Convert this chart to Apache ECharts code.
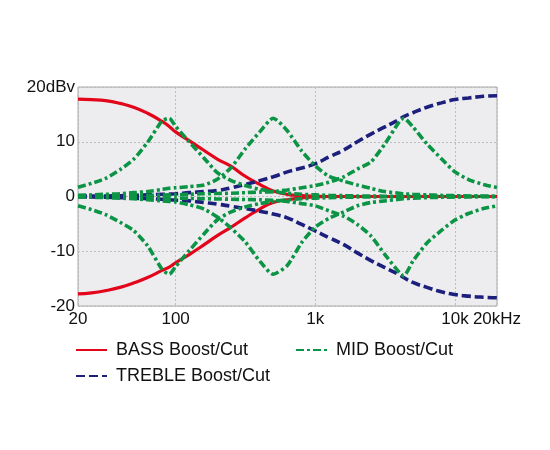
<!DOCTYPE html>
<html>
<head>
<meta charset="utf-8">
<script src="https://cdn.jsdelivr.net/npm/echarts@6/dist/echarts.min.js"></script>
<style>
html,body{margin:0;padding:0;background:#fff;}
#c{width:550px;height:450px;}
</style>
</head>
<body>
<div id="c"></div>
<script>
// Frequencies (Hz)
const freqs = [20,25,31.5,40,50,63,80,90,100,125,160,200,250,315,400,500,630,800,1000,1250,1600,2000,2500,3150,4000,4300,5000,6300,8000,10000,12500,16000,20000];

// Levels (dB)
const bassBoost = [17.8,17.7,17.5,17.0,16.3,15.2,13.7,12.8,11.8,10.2,8.4,6.8,5.5,3.7,2.2,1.0,0.4,0.15,0.05,0,0,0,0,0,0,0,0,0,0,0,0,0,0];
const bassCut = [-17.8,-17.6,-17.2,-16.6,-15.8,-14.8,-13.5,-12.9,-12.1,-10.6,-8.8,-7.1,-5.6,-3.9,-2.3,-1.1,-0.6,-0.25,-0.1,0,0,0,0,0,0,0,0,0,0,0,0,0,0];

const trebleBoost = [0.05,0.08,0.1,0.15,0.2,0.3,0.4,0.45,0.5,0.7,0.9,1.1,1.6,2.2,2.9,3.6,4.5,5.2,6.0,7.2,8.5,10.0,11.4,12.7,14.1,14.6,15.3,16.3,17.1,17.7,18.0,18.3,18.4];
const trebleCut = [-0.05,-0.1,-0.15,-0.2,-0.3,-0.4,-0.5,-0.6,-0.65,-0.8,-1.1,-1.4,-1.8,-2.2,-2.7,-3.2,-3.9,-5.1,-6.3,-7.5,-8.8,-10.3,-11.7,-13.0,-14.3,-14.8,-15.7,-16.6,-17.4,-17.9,-18.2,-18.4,-18.5];

const midBoostLow = [1.7,2.4,3.3,4.9,6.8,9.9,13.8,14.3,12.8,10.0,7.0,4.3,2.9,2.0,1.3,0.9,0.6,0.4,0.3,0.2,0.15,0.1,0.1,0.05,0.05,0.05,0,0,0,0,0,0,0];
const midCutLow = [-1.7,-2.4,-3.3,-4.7,-6.2,-9.0,-13.3,-14.2,-12.8,-9.9,-6.8,-4.2,-2.8,-1.9,-1.3,-0.9,-0.6,-0.4,-0.3,-0.2,-0.15,-0.1,-0.1,-0.05,-0.05,-0.05,0,0,0,0,0,0,0];

const midBoostMid = [0.2,0.3,0.4,0.5,0.7,0.9,1.3,1.5,1.6,1.8,2.1,3.2,5.3,8.7,11.8,14.3,12.0,8.3,5.6,3.7,2.8,2.1,1.5,0.9,0.6,0.5,0.4,0.3,0.2,0.15,0.1,0.05,0];
const midCutMid = [-0.1,-0.15,-0.2,-0.3,-0.4,-0.6,-0.8,-0.9,-1.0,-1.5,-2.3,-3.8,-5.8,-8.3,-11.8,-14.2,-12.6,-8.4,-5.6,-4.0,-2.8,-1.7,-1.1,-0.8,-0.5,-0.4,-0.3,-0.2,-0.15,-0.1,-0.05,0,0];

const midBoostHigh = [0.05,0.05,0.1,0.1,0.15,0.2,0.25,0.3,0.3,0.4,0.5,0.55,0.6,0.7,0.8,0.9,1.2,1.6,2.0,2.6,3.6,5.0,6.3,9.6,13.7,14.3,12.7,9.6,6.9,4.5,3.1,2.2,1.65];
const midCutHigh = [-0.05,-0.05,-0.1,-0.1,-0.15,-0.2,-0.25,-0.3,-0.3,-0.35,-0.4,-0.45,-0.5,-0.55,-0.6,-0.7,-0.9,-1.3,-1.7,-2.6,-3.6,-5.1,-7.2,-10.6,-13.9,-14.5,-11.8,-8.5,-6.2,-4.3,-3.1,-2.2,-1.7];

// Tick labels
const xTickLabels = {20:'20',100:'100',1000:'1k',10000:'10k',20000:'20kHz'};
const yTickLabels = {'20':'20dBv','10':'10','0':'0','-10':'-10','-20':'-20'};

const NAME_BASS = 'BASS Boost/Cut';
const NAME_MID = 'MID Boost/Cut';
const NAME_TREBLE = 'TREBLE Boost/Cut';

const RED = '#e3061b';
const BLUE = '#1c1f7c';
const GREEN = '#0b9444';

function pairs(vals){ return freqs.map((f,i)=>[f, vals[i]]); }

function mk(name, vals, color, type, width, smooth){
  return {
    name: name, type: 'line', data: pairs(vals), symbol: 'none',
    smooth: smooth,
    lineStyle: {color: color, width: width, type: type, cap: 'butt'},
    itemStyle: {color: color},
    emphasis: {disabled: true}, animation: false
  };
}

const dashBlue = [9, 4];
const dashGreen = [8, 3, 3, 3];

const font = 'Liberation Sans, Arial, Helvetica, sans-serif';

const legendCommon = {
  orient: 'vertical', top: 341, padding: 0,
  itemWidth: 31, itemHeight: 14, itemGap: 8, selectedMode: false,
  itemStyle: {opacity: 0},
  textStyle: {color: '#111', fontSize: 18, fontFamily: font, padding: [0,0,0,4]}
};

const chart = echarts.init(document.getElementById('c'), null, {renderer: 'canvas'});
chart.setOption({
  animation: false,
  backgroundColor: '#ffffff',
  grid: {left: 78, right: 53, top: 87, bottom: 144, show: true,
         backgroundColor: '#ededf0', borderColor: '#a8a8a8', borderWidth: 1},
  xAxis: {
    type: 'log', logBase: 10, min: 20, max: 20000,
    axisLine: {show: false}, axisTick: {show: false},
    axisLabel: {
      color: '#111', fontSize: 17, fontFamily: font, margin: 5,
      showMinLabel: true, showMaxLabel: true,
      formatter: function(v){ const r = Math.round(v); return xTickLabels[r] !== undefined ? xTickLabels[r] : ''; }
    },
    splitLine: {show: true, lineStyle: {color: '#bdbdbd', type: [2, 2], width: 1}}
  },
  yAxis: {
    type: 'value', min: -20, max: 20, interval: 10,
    axisLine: {show: false}, axisTick: {show: false},
    axisLabel: {
      color: '#111', fontSize: 17, fontFamily: font, margin: 3,
      formatter: function(v){ const k = String(Math.round(v)); return yTickLabels[k] !== undefined ? yTickLabels[k] : ''; }
    },
    splitLine: {show: true, lineStyle: {color: '#bdbdbd', type: [2, 2], width: 1}}
  },
  legend: [
    Object.assign({}, legendCommon, {data: [NAME_BASS, NAME_TREBLE], left: 75}),
    Object.assign({}, legendCommon, {data: [NAME_MID], left: 295})
  ],
  series: [
    mk(NAME_BASS, bassBoost, RED, 'solid', 3.2, 0.5),
    mk(NAME_BASS, bassCut, RED, 'solid', 3.2, 0.5),
    mk(NAME_TREBLE, trebleBoost, BLUE, dashBlue, 3.6, 0.5),
    mk(NAME_TREBLE, trebleCut, BLUE, dashBlue, 3.6, 0.5),
    mk(NAME_MID, midBoostLow, GREEN, dashGreen, 3.6, 0.22),
    mk(NAME_MID, midCutLow, GREEN, dashGreen, 3.6, 0.22),
    mk(NAME_MID, midBoostMid, GREEN, dashGreen, 3.6, 0.22),
    mk(NAME_MID, midCutMid, GREEN, dashGreen, 3.6, 0.22),
    mk(NAME_MID, midBoostHigh, GREEN, dashGreen, 3.6, 0.22),
    mk(NAME_MID, midCutHigh, GREEN, dashGreen, 3.6, 0.22)
  ]
});
</script>
</body>
</html>
